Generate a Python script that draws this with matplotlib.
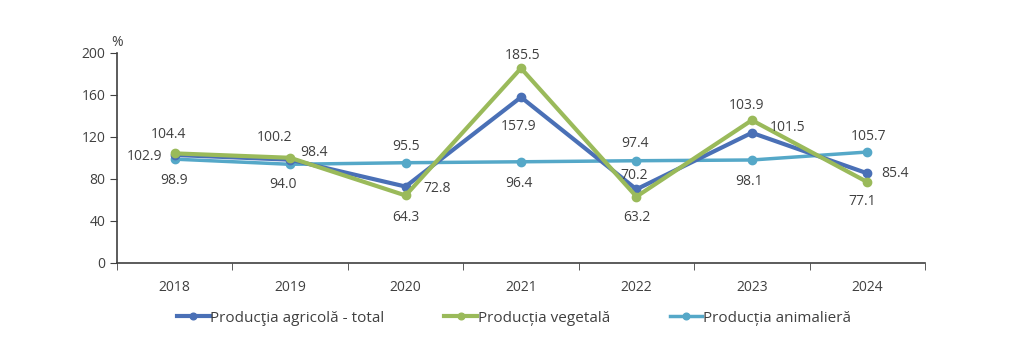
import matplotlib
matplotlib.use("Agg")
import matplotlib.pyplot as plt

years = ["2018", "2019", "2020", "2021", "2022", "2023", "2024"]
total = [102.9, 98.4, 72.8, 157.9, 70.2, 124.0, 85.4]
vegetal = [104.4, 100.2, 64.3, 185.5, 63.2, 136.0, 77.1]
animal = [98.9, 94.0, 95.5, 96.4, 97.4, 98.1, 105.7]
total_labels = ["102.9", "98.4", "72.8", "157.9", "70.2", "101.5", "85.4"]
vegetal_labels = ["104.4", "100.2", "64.3", "185.5", "63.2", "103.9", "77.1"]
animal_labels = ["98.9", "94.0", "95.5", "96.4", "97.4", "98.1", "105.7"]
series_names = ["Producţia agricolă - total", "Producția vegetală", "Producția animalieră"]

plt.rcParams['font.family'] = ['Open Sans', 'DejaVu Sans']
fig = plt.figure(figsize=(10.24, 3.5), dpi=100)
ax = fig.add_axes([117/1024, 1-263/350, (925-117)/1024, 210/350])

x = list(range(len(years)))
c_total, c_veg, c_anim = "#4a70b6", "#9aba5a", "#55a8c8"
ax.plot(x, total, color=c_total, lw=3, marker="o", ms=6, label=series_names[0], zorder=3)
ax.plot(x, vegetal, color=c_veg, lw=3, marker="o", ms=6, label=series_names[1], zorder=4)
ax.plot(x, animal, color=c_anim, lw=2.5, marker="o", ms=6, label=series_names[2], zorder=2)

off_total = [(-30, -2), (24, 7), (32, -2), (-2, -29), (-2, 14), (36, 5), (28, 0)]
off_veg = [(-6, 19), (-16, 20), (0, -22), (2, 13), (0, -21), (-5, 15), (-5, -19)]
off_anim = [(-1, -21), (-7, -20), (0, 16), (-2, -22), (-1, 17), (-3, -22), (1, 16)]

for vals, labs, offs in [(total, total_labels, off_total), (vegetal, vegetal_labels, off_veg), (animal, animal_labels, off_anim)]:
    for xi, v, l, o in zip(x, vals, labs, offs):
        ax.annotate(l, (xi, v), xytext=o, textcoords="offset pixels", ha="center", va="center",
                    fontsize=10, color="#404040", zorder=5)

ax.set_xlim(-0.5, len(years) - 0.5)
ax.set_ylim(0, 200)
ax.set_yticks(range(0, 201, 40))
ax.set_xticks(x)
ax.set_xticklabels(years)
ax.set_xticks([i - 0.5 for i in range(len(years) + 1)], minor=True)
ax.tick_params(axis="x", which="major", length=0, pad=12, labelsize=10, labelcolor="#404040")
ax.tick_params(axis="x", which="minor", length=5, color="#404040")
ax.tick_params(axis="y", length=5, labelsize=10, labelcolor="#404040", color="#404040")
for s in ["top", "right"]:
    ax.spines[s].set_visible(False)
for s in ["left", "bottom"]:
    ax.spines[s].set_color("#404040")
    ax.spines[s].set_linewidth(1.2)
ax.text(0, 1.05, "%", transform=ax.transAxes, ha="center", va="center", fontsize=10, color="#404040")

fig.legend(loc="center", bbox_to_anchor=(514/1024, 1-318/350), ncol=3, frameon=False,
           fontsize=11, columnspacing=3.9, handlelength=2.15, handletextpad=0.05,
           markerscale=0.8, labelcolor="#404040")
fig.savefig("out.png", dpi=100, facecolor="white")
